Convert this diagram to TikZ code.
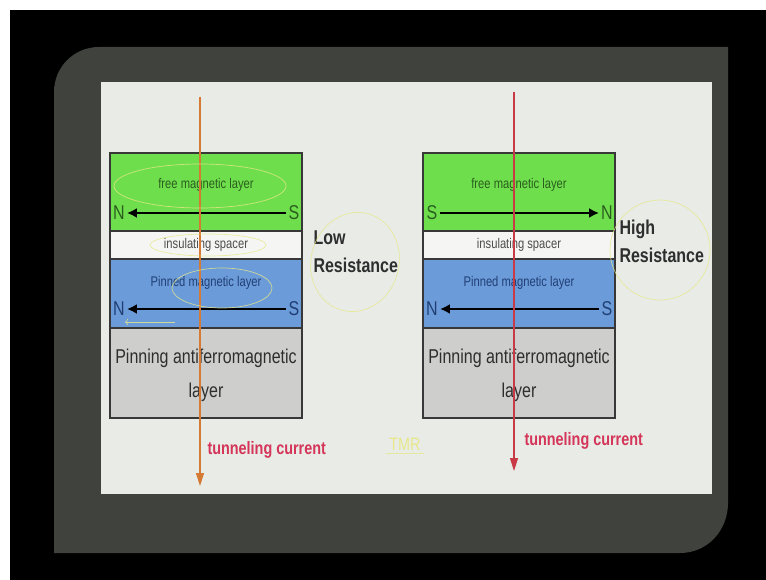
\documentclass[tikz,border=0pt]{standalone}
\usepackage{fontspec}
\setmainfont{Liberation Sans}[FakeStretch=0.8]
\usetikzlibrary{arrows.meta,calc}
\definecolor{framegrey}{HTML}{40433D}
\definecolor{slidebg}{HTML}{E9EBE7}
\definecolor{freegreen}{HTML}{6FDE4C}
\definecolor{spacerwhite}{HTML}{F5F6F3}
\definecolor{pinnedblue}{HTML}{6B9BD8}
\definecolor{pinninggrey}{HTML}{CECFCD}
\definecolor{freetext}{HTML}{2A5E1E}
\definecolor{pinnedtext}{HTML}{213F75}
\definecolor{lowcurrent}{HTML}{D47A35}
\definecolor{highcurrent}{HTML}{C83A45}
\definecolor{tunnelred}{HTML}{D43558}
\definecolor{handyellow}{HTML}{E6E88A}

\begin{document}
\begin{tikzpicture}[x=1pt,y=-1pt,
    layer/.style={draw=black!78,line width=1.6pt},
    tiny/.style={font=\fontsize{14}{14}\selectfont},
    pole/.style={font=\fontsize{20}{20}\selectfont,inner sep=0pt},
    magarrow/.style={line width=2.6pt,shorten <=2pt,shorten >=2pt},
    nleft/.style={{Latex[length=10pt,width=10pt]}-},
    nright/.style={-{Latex[length=10pt,width=10pt]}},
    current/.style={line width=1.4pt,-{Triangle[length=13pt,width=8pt]}},
    tunnel/.style={font=\bfseries\fontsize{18}{18}\selectfont,text=tunnelred,anchor=west},
    reslabel/.style={font=\bfseries\fontsize{20}{28}\selectfont,align=left,text=black!82,anchor=west},
    scribble/.style={draw=handyellow,line width=0.7pt,draw opacity=0.8}]
    \newcommand\mtjstack[5]{%
        \begin{scope}[xshift=#2pt]
            \draw[layer,fill=freegreen] (0,153) rectangle (192,231);
            \draw[layer,fill=spacerwhite] (0,231) rectangle (192,259);
            \draw[layer,fill=pinnedblue] (0,259) rectangle (192,328);
            \draw[layer,fill=pinninggrey] (0,328) rectangle (192,418);
            \node[tiny,text=freetext] (#1free) at (96,185) {free magnetic layer};
            \node[pole,text=freetext] (#1fl) at (9,213) {#3};
            \node[pole,text=freetext] (#1fr) at (184,213) {#4};
            \draw[magarrow,#5] (#1fl) -- (#1fr);
            \node[tiny,text=black!70] (#1spacer) at (96,245) {insulating spacer};
            \node[tiny,text=pinnedtext] (#1pinned) at (96,283) {Pinned magnetic layer};
            \node[pole,text=pinnedtext] (#1pl) at (9,309) {N};
            \node[pole,text=pinnedtext] (#1pr) at (184,309) {S};
            \draw[magarrow,nleft] (#1pl) -- (#1pr);
            \node[font=\fontsize{20}{34}\selectfont,align=center,text=black!82] (#1afm) at (96,375) {Pinning antiferromagnetic\\layer};
        \end{scope}
    }

    \useasboundingbox (0,0) rectangle (766,580);
    % screen and slide frame
    \fill[white] (0,0) rectangle (766,580);
    \fill[black] (10,10) rectangle (766,580);
    \fill[framegrey] (54,553) -- (54,92) .. controls (54,67) and (74,47) .. (99,47)
        -- (728,47) -- (728,503) .. controls (728,530) and (708,553) .. (680,553) -- cycle;
    \fill[slidebg] (101,82) rectangle (712,494);

    % low resistance (parallel)
    \mtjstack{lo}{110}{N}{S}{nleft};
    % high resistance (antiparallel)
    \mtjstack{hi}{423}{S}{N}{nright};

    % tunneling currents
    \coordinate (lotop) at (200,97);
    \coordinate (lobot) at (200,486);
    \coordinate (hitop) at (514,92);
    \coordinate (hibot) at (514,471);
    \draw[current,draw=lowcurrent,fill=lowcurrent] (lotop) -- (lobot);
    \draw[current,draw=highcurrent,fill=highcurrent] (hitop) -- (hibot);

    % labels
    \node[tunnel] (lotunnel) at (204,450) {tunneling current};
    \node[tunnel] (hitunnel) at (521,441) {tunneling current};
    \node[reslabel] (lores) at (310,252) {Low\\Resistance};
    \node[reslabel] (hires) at (616,241) {High\\Resistance};

    % hand notes
    \draw[scribble,rotate around={-15:(355,262)}] (355,262) ellipse (44pt and 50pt);
    \draw[scribble] (660,250) ellipse (50pt and 50pt);
    \draw[scribble] (200,186) ellipse (86pt and 22pt);
    \draw[scribble] (208,245) ellipse (58pt and 11pt);
    \draw[scribble] (222,288) ellipse (50pt and 20pt);
    \draw[scribble,->] (175,322) -- (125,322);
    \node[font=\fontsize{18}{18}\selectfont,text=handyellow] (tmr) at (405,444) {TMR};
    \draw[scribble] (tmr.south west) -- (tmr.south east);
\end{tikzpicture}
\end{document}
